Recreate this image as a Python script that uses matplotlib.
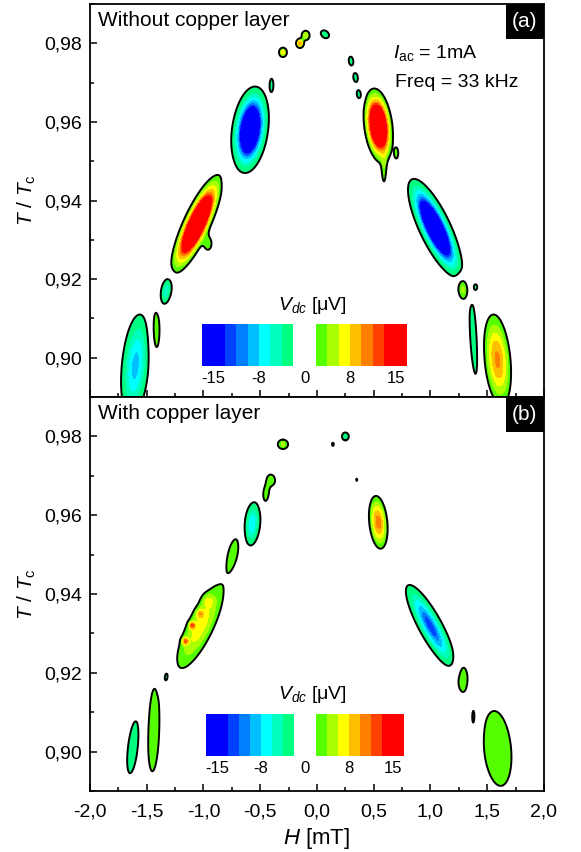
import numpy as np
import matplotlib
matplotlib.use("Agg")
import matplotlib.pyplot as plt
from matplotlib.patches import Rectangle
from matplotlib.ticker import MultipleLocator, FuncFormatter

plt.rcParams['font.family'] = ['Liberation Sans', 'DejaVu Sans']
plt.rcParams['mathtext.fontset'] = 'custom'
plt.rcParams['mathtext.rm'] = 'Liberation Sans'
plt.rcParams['mathtext.it'] = 'Liberation Sans:italic'

# blobs of the V_dc map: centre H [mT], centre T/Tc,
# half width / half height of the outline, tilt dH/dT, peak value [uV]
a_h = [-1.60, -1.42, -1.33, -1.06, -0.59, -0.40, -0.30, -0.15, -0.10, 0.07,
       0.30, 0.34, 0.37, 0.54, 0.70, 1.04, 1.29, 1.38, 1.59, -0.81, 1.40,
       -0.96, 0.59]
a_t = [0.898, 0.907, 0.917, 0.934, 0.958, 0.9694, 0.9777, 0.980, 0.982, 0.9823,
       0.9755, 0.9713, 0.967, 0.959, 0.952, 0.933, 0.9175, 0.905, 0.8995, 0.946, 0.918,
       0.929, 0.948]
a_dh = [0.12, 0.035, 0.05, 0.13, 0.16, 0.015, 0.035, 0.035, 0.035, 0.035,
        0.02, 0.02, 0.02, 0.125, 0.015, 0.15, 0.05, 0.03, 0.115, 0.008, 0.008,
        0.03, 0.015]
a_dt = [0.013, 0.0056, 0.0035, 0.0125, 0.011, 0.0015, 0.0012, 0.0012, 0.0012, 0.0010,
        0.0011, 0.0011, 0.0011, 0.0095, 0.0012, 0.0125, 0.0028, 0.0094, 0.0115, 0.0012, 0.0004,
        0.0015, 0.003]
a_slope = [3, 0, 6, 14.7, 4, 0, 0, 0, 0, -10,
           -3, -3, -3, -3.7, 0, -14.8, -3, -2, -3, 0, 0,
           0, 0]
a_amp = [-9, 3, -6, 32, -30, -3, 7, 10, 6, -3,
         -3, -3, -3, 30, 3, -32, 5, -3, 10.5, -2.3, -2.3,
         3, 3]

b_h = [-0.30, -0.40, -0.45, -0.57, -0.74, -1.03, -1.33, -1.44, -1.62, 0.25,
       0.14, 0.35, 0.54, 1.00, 1.28, 1.38, 1.59, -1.10, -1.16, -1.03, -0.96]
b_t = [0.978, 0.969, 0.9655, 0.9578, 0.9504, 0.9317, 0.9189, 0.9055, 0.9012, 0.980,
       0.978, 0.969, 0.9582, 0.9318, 0.9187, 0.9088, 0.9008, 0.932, 0.928, 0.935, 0.9383]
b_dh = [0.045, 0.03, 0.025, 0.07, 0.04, 0.125, 0.03, 0.05, 0.045, 0.03,
        0.008, 0.005, 0.08, 0.115, 0.05, 0.03, 0.12, 0.03, 0.03, 0.03, 0.03]
b_dt = [0.0012, 0.0012, 0.002, 0.0055, 0.0035, 0.0105, 0.002, 0.0105, 0.0067, 0.0010,
        0.0004, 0.0003, 0.0067, 0.0105, 0.0035, 0.0048, 0.0095, 0.001, 0.001, 0.001, 0.001]
b_slope = [0, -3, 3, 3, 7, 15.2, 5, 1, 4, 0,
           0, 0, -3, -17.5, -2, 0, -3, 0, 0, 0, 0]
b_amp = [4.5, 3, 3, -8, 3, 7, -3, 3, -3, -3,
         -2.3, -2.3, 11, -13, 3, -3, 3, 8, 8, 5, 3]

# colour scale
neg_levels = [-100, -13, -11.5, -10, -8, -6, -4, -2]
pos_levels = [2, 4, 6, 8, 10, 11.5, 13, 100]
neg_colors = ['#0000ff', '#0040ff', '#0080ff', '#00bfff', '#00ffff', '#00ffbf', '#00ff80']
pos_colors = ['#55ff00', '#aaff00', '#ffff00', '#ffbf00', '#ff8000', '#ff4000', '#ff0000']
cb_ticks = ['-15', '-8', '0', '8', '15']


def build_map(hs, ts, dhs, dts, slopes, amps, H, T):
    V = np.zeros_like(H)
    for h0, t0, dh, dt, s, A in zip(hs, ts, dhs, dts, slopes, amps):
        r0 = np.sqrt(2 * np.log(abs(A) / 2.0)) if abs(A) > 2.05 else 0.3
        u = (H - h0 - s * (T - t0)) / (dh / r0)
        v = (T - t0) / (dt / r0)
        V += A * np.exp(-0.5 * (u**2 + v**2))
    return V


def draw_cbar(ax, rect):
    cax = ax.inset_axes(rect)
    cax.set_axis_off()
    cax.set_xlim(0, 18)
    cax.set_ylim(0, 1)
    neg_edges = [0, 2, 3, 4, 5, 6, 7, 8]
    pos_edges = [10, 11, 12, 13, 14, 15, 16, 18]
    for i, c in enumerate(neg_colors):
        cax.bar(neg_edges[i], 1, neg_edges[i + 1] - neg_edges[i], align='edge', color=c, lw=0)
    for i, c in enumerate(pos_colors):
        cax.bar(pos_edges[i], 1, pos_edges[i + 1] - pos_edges[i], align='edge', color=c, lw=0)
    for x, lab in zip([1, 5, 9, 13, 17], cb_ticks):
        cax.text(x, -0.3, lab, ha='center', va='center', fontsize=12, clip_on=False)
    cax.text(9.7, 1.45, r'$V_{dc}$ [μV]', ha='center', va='center', fontsize=14, clip_on=False)


hgrid = np.linspace(-2, 2, 801)
tgrid = np.linspace(0.885, 0.995, 551)
H, T = np.meshgrid(hgrid, tgrid)

levels = neg_levels + pos_levels
colors = neg_colors + ['none'] + pos_colors

fig = plt.figure(figsize=(5.81, 8.52), dpi=100)
ax_a = fig.add_axes([0.1549, 0.534, 0.7814, 0.4613])
ax_b = fig.add_axes([0.1549, 0.0716, 0.7814, 0.4624])

panels = [
    (ax_a, (a_h, a_t, a_dh, a_dt, a_slope, a_amp), 'Without copper layer', '(a)',
     [0.247, 0.079, 0.451, 0.107]),
    (ax_b, (b_h, b_t, b_dh, b_dt, b_slope, b_amp), 'With copper layer', '(b)',
     [0.2555, 0.089, 0.436, 0.107]),
]

for ax, blobs, title, tag, cbrect in panels:
    V = build_map(*blobs, H, T)
    ax.contourf(H, T, V, levels=levels, colors=colors)
    ax.contour(H, T, V, levels=[-2, 2], colors='k', linewidths=1.4, linestyles='solid')
    ax.set_xlim(-2, 2)
    ax.set_ylim(0.89, 0.99)
    ax.xaxis.set_major_locator(MultipleLocator(0.5))
    ax.xaxis.set_minor_locator(MultipleLocator(0.25))
    ax.yaxis.set_major_locator(MultipleLocator(0.02))
    ax.yaxis.set_minor_locator(MultipleLocator(0.01))
    ax.tick_params(which='both', direction='in', width=1.1, labelsize=14)
    ax.tick_params(which='major', length=5, pad=6)
    ax.tick_params(which='minor', length=3)
    ax.tick_params(axis='x', pad=9)
    ax.yaxis.set_major_formatter(FuncFormatter(lambda v, p: f'{v:.2f}'.replace('.', ',')))
    ax.xaxis.set_major_formatter(FuncFormatter(lambda v, p: f'{v:.1f}'.replace('.', ',')))
    for sp in ax.spines.values():
        sp.set_linewidth(1.3)
    ax.set_ylabel(r'$T$ / $T_{\rm c}$', fontsize=15, labelpad=4)
    ax.text(0.018, 0.958, title, transform=ax.transAxes, fontsize=15, va='center', ha='left')
    ax.add_patch(Rectangle((0.916, 0.91), 0.084, 0.09, transform=ax.transAxes,
                           facecolor='black', edgecolor='none', zorder=5))
    ax.text(0.958, 0.955, tag, transform=ax.transAxes, color='white', fontsize=15,
            ha='center', va='center', zorder=6)
    draw_cbar(ax, cbrect)

ax_a.tick_params(axis='x', labelbottom=False)
ax_a.text(0.667, 0.875, r'$I_{\rm ac}$ = 1mA', transform=ax_a.transAxes, fontsize=14,
          va='center', ha='left')
ax_a.text(0.672, 0.80, 'Freq = 33 kHz', transform=ax_a.transAxes, fontsize=14,
          va='center', ha='left')
ax_b.set_xlabel(r'$H$ [mT]', fontsize=16, labelpad=4)

fig.savefig('out.png', dpi=100)
